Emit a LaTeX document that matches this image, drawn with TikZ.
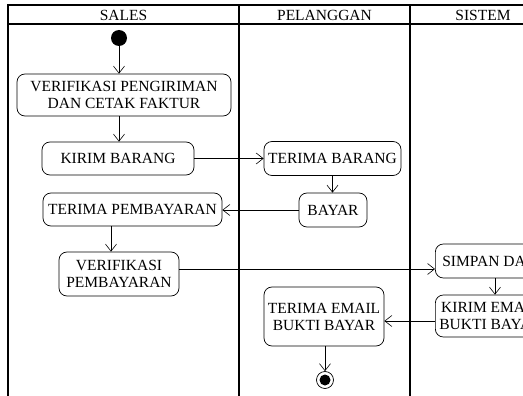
\documentclass[tikz,border=0pt]{standalone}
\usepackage{fontspec}
\setmainfont{Liberation Serif}
\usetikzlibrary{arrows.meta,calc,positioning}

\begin{document}
\begin{tikzpicture}[x=1pt,y=-1pt,>={Straight Barb[length=7pt,width=11pt]},
		font=\fontsize{15.5}{17}\selectfont,
		act/.style={draw,rounded corners=8pt,line width=0.7pt,align=center,inner sep=0pt},
		flow/.style={->,line width=0.6pt},
		lane/.style={line width=1.8pt}]
		\useasboundingbox (0,0) rectangle (523,396);
		% swimlanes
		\draw[lane] (8,400) -- (8,5) -- (556,5) -- (556,400);
		\draw[lane] (8,24) -- (556,24);
		\draw[lane] (239,5) -- (239,400);
		\draw[lane] (410,5) -- (410,400);
		\node (h_sales) at (123.5,15) {SALES};
		\node (h_pel) at (324.5,15) {PELANGGAN};
		\node (h_sis) at (483,15) {SISTEM};
		% activities
		\node[circle,fill=black,minimum size=16pt,inner sep=0pt] (start) at (119,38) {};
		\node[act,minimum width=214pt,minimum height=42pt] (a_vpg) at (124,95) {VERIFIKASI PENGIRIMAN\\DAN CETAK FAKTUR};
		\node[act,minimum width=152pt,minimum height=33pt] (a_kb) at (118,158.5) {KIRIM BARANG};
		\node[act,minimum width=137pt,minimum height=34pt] (a_tb) at (332.5,158.5) {TERIMA BARANG};
		\node[act,minimum width=68pt,minimum height=34pt] (a_by) at (333,210) {BAYAR};
		\node[act,minimum width=179pt,minimum height=33pt] (a_tp) at (132.5,209.5) {TERIMA PEMBAYARAN};
		\node[act,minimum width=120pt,minimum height=44pt] (a_vp) at (119,274) {VERIFIKASI\\PEMBAYARAN};
		\node[act,inner xsep=7pt,minimum height=34pt,anchor=west] (a_sd) at (435,261) {SIMPAN DATA};
		\node[act,inner xsep=4pt,minimum height=42pt,anchor=west] (a_ke) at (435,316) {KIRIM EMAIL\\BUKTI BAYAR};
		\node[act,minimum width=120pt,minimum height=59pt] (a_te) at (324,316.5) {TERIMA EMAIL\\BUKTI BAYAR};
		\node[circle,draw,line width=0.7pt,minimum size=17pt,inner sep=0pt] (stop) at (325,380) {};
		\fill (stop) circle (5.5pt);
		% transitions
		\draw[flow] (start) -- (start |- a_vpg.north);
		\draw[flow] (start |- a_vpg.south) -- (start |- a_kb.north);
		\draw[flow] (a_kb.east) -- (a_kb.east -| a_tb.west);
		\draw[flow] (a_tb.south) -- (a_tb.south |- a_by.north);
		\draw[flow] (a_by.west) -- (a_by.west -| a_tp.east);
		\draw[flow] ([xshift=-8pt]a_vp.north |- a_tp.south) -- ([xshift=-8pt]a_vp.north);
		\draw[flow] ([yshift=5pt]a_vp.east) -- ([yshift=5pt]a_vp.east -| a_sd.west);
		\draw[flow] ([xshift=60pt]a_sd.south west) -- ([xshift=60pt]a_sd.south west |- a_ke.north);
		\draw[flow] ([yshift=-5pt]a_ke.west) -- ([yshift=-5pt]a_ke.west -| a_te.east);
		\draw[flow] (a_te.south -| stop) -- (stop);
	\end{tikzpicture}
\end{document}
